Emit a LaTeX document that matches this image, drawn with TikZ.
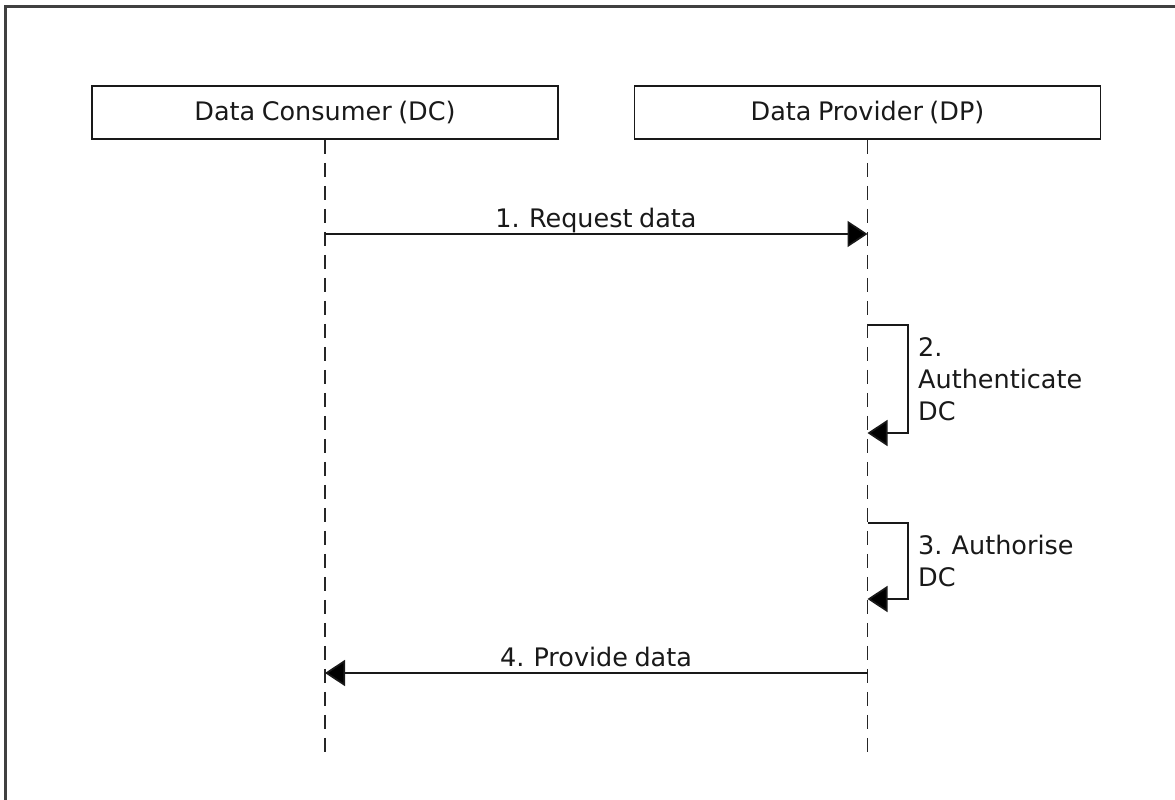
\documentclass[tikz,border=0pt]{standalone}
\usepackage{fontspec}
\setmainfont[WordSpace=0.8]{DejaVu Sans}
\usetikzlibrary{arrows.meta,calc}
\begin{document}
\begin{tikzpicture}[x=1pt,y=-1pt,
  txt/.style={font=\fontsize{25.5}{32}\selectfont, text=black!90, inner sep=0pt},
  actor/.style={draw=black!90, line width=1.8pt, minimum width=466pt, minimum height=53pt, inner sep=0pt, txt},
  lifeline/.style={draw=black!85, line width=1.8pt, dash pattern=on 14pt off 9pt},
  msg/.style={draw=black!90, line width=1.7pt, -{Triangle[length=20pt,width=26pt,fill=black]}, shorten >=0pt},
  lbl/.style={txt, anchor=base},
  slbl/.style={txt, anchor=base west, align=left}
]
\useasboundingbox (0,0) rectangle (1175,800);
\fill[white] (0,0) rectangle (1175,800);
\draw[draw=black!75, line width=2.4pt] (5.5,6.5) rectangle (1190,815);

\node[actor] (dc) at (325,112.5) {Data Consumer (DC)};
\node[actor] (dp) at (867.5,112.5) {Data Provider (DP)};

\coordinate (dcend) at (325,755);
\coordinate (dpend) at (867.5,755);
\draw[lifeline] (dc.south) -- (dcend);
\draw[lifeline] (dp.south) -- (dpend);

% message 1
\coordinate (m1) at (0,234);
\draw[msg] (dc.south |- m1) -- (dp.south |- m1);
\node[lbl] (l1) at (596,227) {1. Request data};

% message 2 (self)
\coordinate (m2a) at (0,325);
\coordinate (m2b) at (0,433);
\coordinate (sx) at (908,0);
\draw[msg] (dp.south |- m2a) -- (sx |- m2a) -- (sx |- m2b) -- (dp.south |- m2b);
\node[slbl] (l2) at (918,420) {2.\\Authenticate\\DC};

% message 3 (self)
\coordinate (m3a) at (0,523);
\coordinate (m3b) at (0,599);
\draw[msg] (dp.south |- m3a) -- (sx |- m3a) -- (sx |- m3b) -- (dp.south |- m3b);
\node[slbl] (l3) at (918,586) {3. Authorise\\DC};

% message 4
\coordinate (m4) at (0,673);
\draw[msg] (dp.south |- m4) -- (dc.south |- m4);
\node[lbl] (l4) at (596,666) {4. Provide data};
\end{tikzpicture}
\end{document}
